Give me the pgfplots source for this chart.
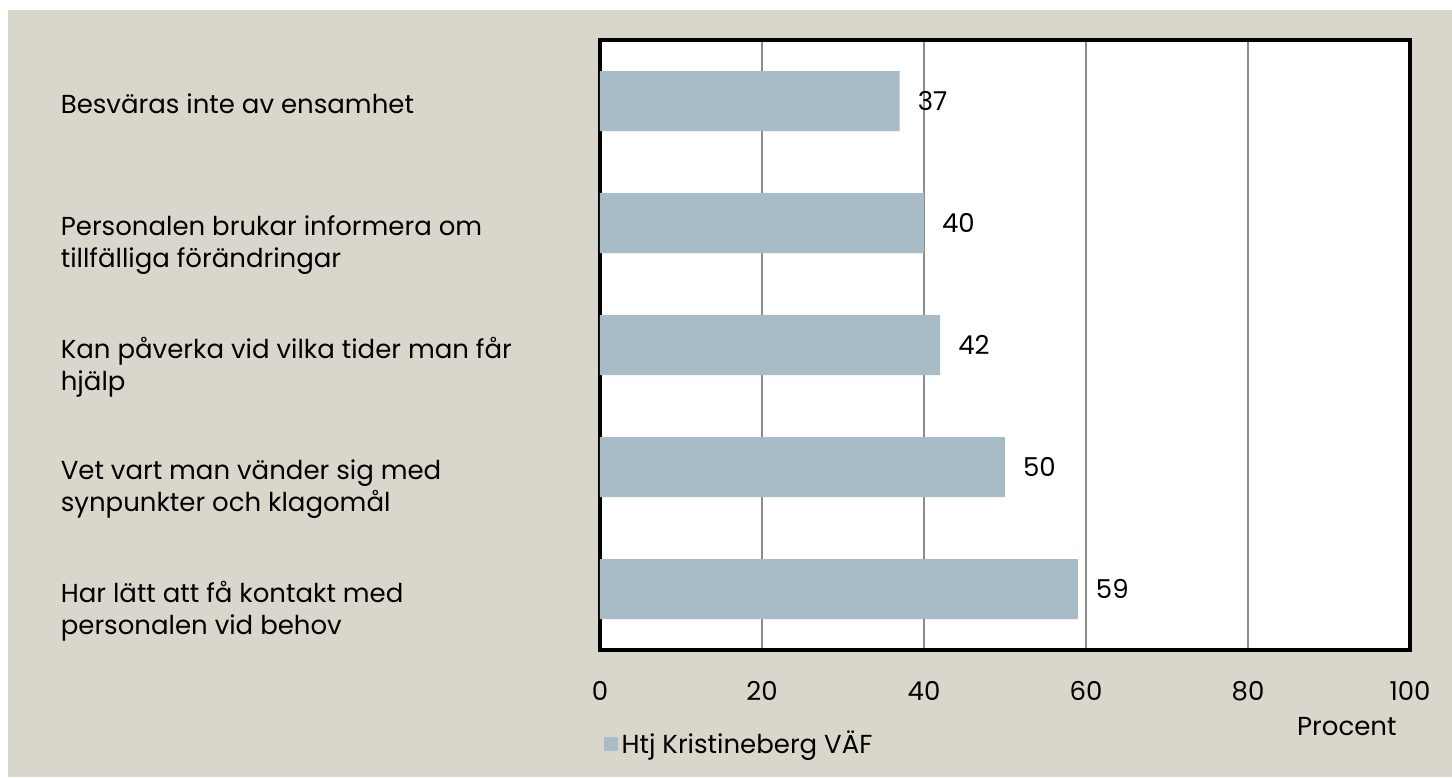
\documentclass[border=0pt]{standalone}
\usepackage{fontspec}
\setmainfont{Poppins}
\usepackage{pgfplots}
\pgfplotsset{compat=1.18}
\definecolor{bgc}{HTML}{D9D7CB}
\definecolor{barc}{HTML}{A7BCC7}
\definecolor{gridc}{HTML}{8C8C8C}
\begin{document}
\fontsize{13pt}{16pt}\selectfont
\begin{tikzpicture}
\fill[white] (-300pt,-63.5pt) rectangle (426pt,325pt);
\fill[bgc] (-296pt,-63.5pt) rectangle (426pt,320pt);
\begin{axis}[
  at={(0pt,0pt)}, anchor=south west,
  scale only axis, width=405pt, height=305pt,
  xbar, bar width=30pt,
  xmin=0, xmax=100,
  ymin=-0.5, ymax=4.5, y dir=reverse,
  ytick={0,1,2,3,4},
  yticklabels={{Besväras inte av ensamhet},
    {Personalen brukar informera om\\tillfälliga förändringar},
    {Kan påverka vid vilka tider man får\\hjälp},
    {Vet vart man vänder sig med\\synpunkter och klagomål},
    {Har lätt att få kontakt med\\personalen vid behov}},
  yticklabel style={anchor=north west, align=left, xshift=-265.5pt, yshift=4pt, font=\fontsize{13pt}{16pt}\selectfont, inner sep=0pt},
  y tick style={draw=none},
  xtick={0,20,40,60,80,100},
  x tick style={draw=none},
  xticklabel style={yshift=-11pt, font=\fontsize{13pt}{16pt}\selectfont},
  /pgf/number format/assume math mode=true,
  xmajorgrids, grid style={gridc, line width=0.75pt},
  axis line style={black, line width=2pt},
  axis background/.style={fill=white},
  xlabel={Procent},
  xlabel style={at={(axis description cs:0.922,-0.125)}, anchor=center, font=\fontsize{13pt}{16pt}\selectfont},
  nodes near coords,
  every node near coord/.append style={anchor=west, xshift=4.5pt, font=\fontsize{13pt}{16pt}\selectfont, black},
  legend style={at={(axis description cs:0.004,-0.154)}, anchor=west, draw=none, fill=none, font=\fontsize{13pt}{16pt}\selectfont, inner sep=0pt},
  legend image code/.code={\fill[barc] (0pt,-3.5pt) rectangle (7pt,3.5pt);},
]
\addplot[fill=barc, draw=none] coordinates {(37,0) (40,1) (42,2) (50,3) (59,4)};
\legend{Htj Kristineberg VÄF}
\end{axis}
\end{tikzpicture}
\end{document}
